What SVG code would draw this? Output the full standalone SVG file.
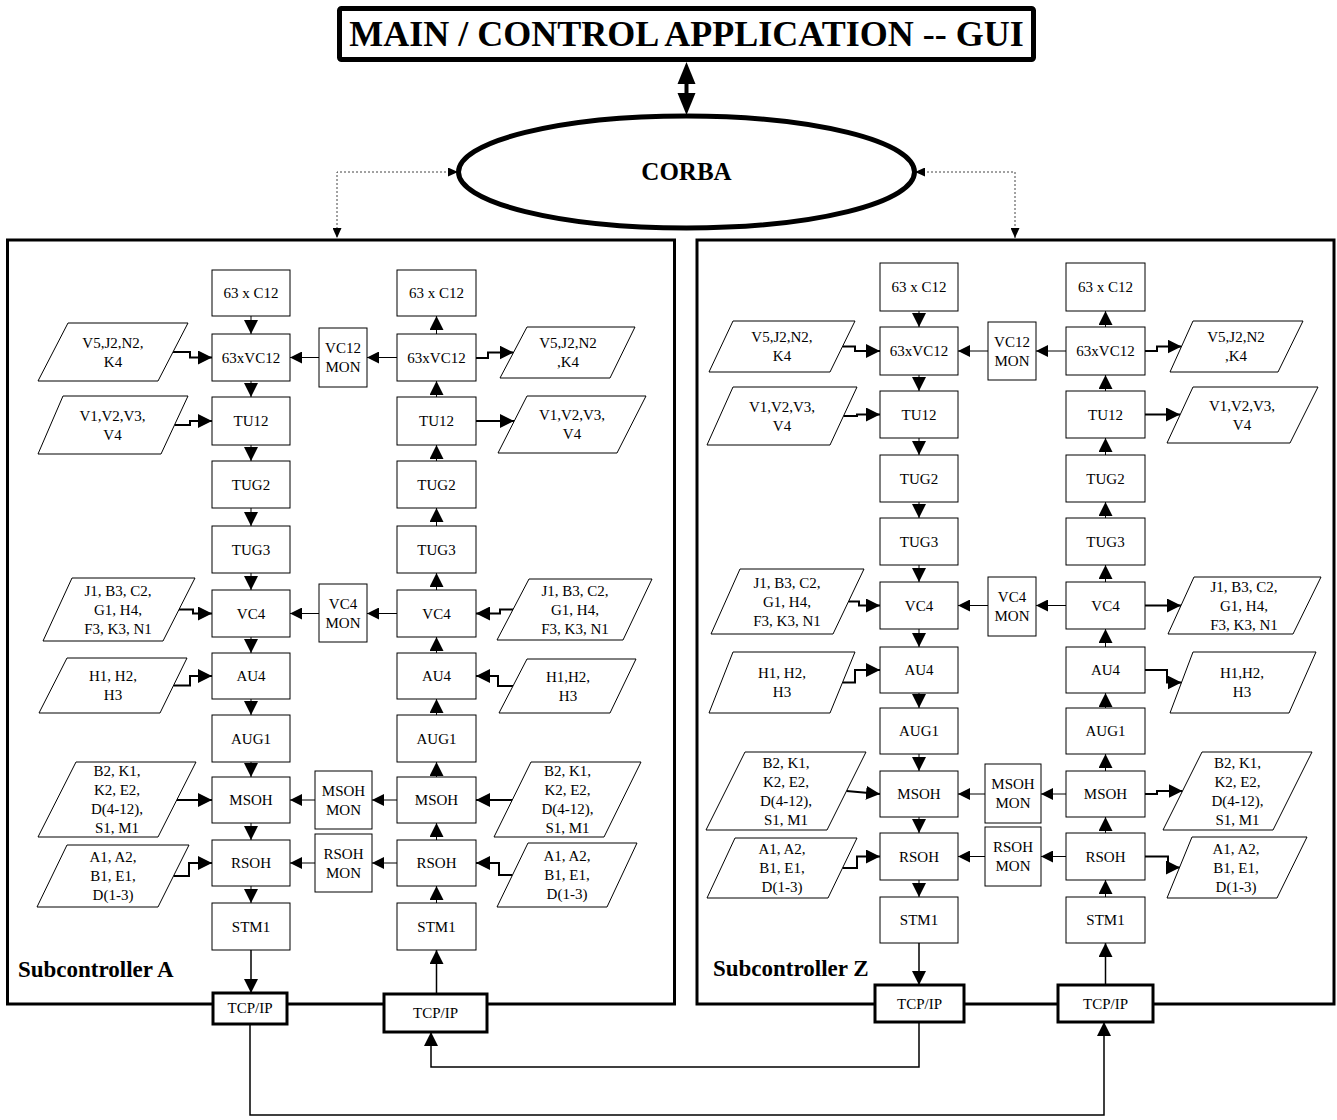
<svg xmlns="http://www.w3.org/2000/svg" width="1337" height="1120" viewBox="0 0 1337 1120">
<style>
.b{fill:#fff;stroke:#000;stroke-width:1}
.tc{fill:#fff;stroke:#000;stroke-width:3}
.pn{fill:none;stroke:#000;stroke-width:3}
.t{font-family:"Liberation Serif","Times New Roman",serif;font-size:15px;text-anchor:middle;fill:#000}
.tb{font-family:"Liberation Serif","Times New Roman",serif;font-weight:bold;fill:#000}
.f{fill:none;stroke:#000;stroke-width:1;marker-end:url(#ah)}
.fp{fill:none;stroke:#000;stroke-width:2;marker-end:url(#ah)}
.fm{fill:none;stroke:#000;stroke-width:1;marker-end:url(#am)}
.fl{fill:none;stroke:#000;stroke-width:1.5;marker-end:url(#ah)}
.fd{fill:none;stroke:#444;stroke-width:1;stroke-dasharray:2 2;marker-start:url(#ad);marker-end:url(#ad)}
</style>
<defs>
<marker id="ah" markerUnits="userSpaceOnUse" markerWidth="14" markerHeight="14" refX="14" refY="7" orient="auto"><path d="M0,0 L14,7 L0,14 z" fill="#000"/></marker>
<marker id="am" markerUnits="userSpaceOnUse" markerWidth="12" markerHeight="12" refX="12" refY="6" orient="auto"><path d="M0,0 L12,6 L0,12 z" fill="#000"/></marker>
<marker id="ad" markerUnits="userSpaceOnUse" markerWidth="10" markerHeight="9" refX="10" refY="4.5" orient="auto-start-reverse"><path d="M0,0 L10,4.5 L0,9 z" fill="#000"/></marker>
</defs>
<rect width="1337" height="1120" fill="#fff"/>

<g id="panelA"><rect class="pn" x="7.5" y="240" width="667" height="764"/><text class="tb" x="18" y="977" font-size="23">Subcontroller A</text></g>
<g id="panelZ"><rect class="pn" x="697" y="240" width="637" height="764"/><text class="tb" x="713" y="976" font-size="23">Subcontroller Z</text></g>

<g id="connectors">
<line x1="686.5" y1="80" x2="686.5" y2="98" stroke="#000" stroke-width="4"/>
<polygon points="686.5,62 677.5,84 695.5,84" fill="#000"/>
<polygon points="686.5,115 677.5,93 695.5,93" fill="#000"/>
<path class="fd" d="M458,172 H337 V238"/>
<path class="fd" d="M915,172 H1015 V238"/>
<!-- panel A left column (down) -->
<path class="f" d="M251,316 V334"/>
<path class="f" d="M251,381 V397"/>
<path class="f" d="M251,445 V461"/>
<path class="f" d="M251,508 V526"/>
<path class="f" d="M251,573 V590"/>
<path class="f" d="M251,637 V653"/>
<path class="f" d="M251,699 V715"/>
<path class="f" d="M251,762 V777"/>
<path class="f" d="M251,823 V840"/>
<path class="f" d="M251,886 V903"/>
<path class="fl" d="M251,950 V993"/>
<!-- panel A right column (up) -->
<path class="fl" d="M436.5,994 V950"/>
<path class="f" d="M436.5,903 V886"/>
<path class="f" d="M436.5,840 V823"/>
<path class="f" d="M436.5,777 V762"/>
<path class="f" d="M436.5,715 V699"/>
<path class="f" d="M436.5,653 V637"/>
<path class="f" d="M436.5,590 V573"/>
<path class="f" d="M436.5,526 V508"/>
<path class="f" d="M436.5,461 V445"/>
<path class="f" d="M436.5,397 V381"/>
<path class="f" d="M436.5,334 V316"/>
<!-- panel A MON -->
<path class="fm" d="M397,357.5 H367"/>
<path class="fm" d="M319,357.5 H290"/>
<path class="fm" d="M397,613.5 H367"/>
<path class="fm" d="M319,613.5 H290"/>
<path class="fm" d="M397,800 H372"/>
<path class="fm" d="M315,800 H290"/>
<path class="fm" d="M397,863 H372"/>
<path class="fm" d="M315,863 H290"/>
<!-- panel A left paras -->
<path class="fp" d="M173,352 H190 V357.5 H212"/>
<path class="fp" d="M174.5,425 H190 V421 H212"/>
<path class="fp" d="M179,609.5 H193 V613.5 H212"/>
<path class="fp" d="M173.5,685.5 H190 V676 H212"/>
<path class="fp" d="M177,800 H212"/>
<path class="fp" d="M173.5,876 H189 V863 H212"/>
<!-- panel A right paras -->
<path class="fp" d="M476,358 H488 V352.5 H513.5"/>
<path class="fp" d="M476,421 H514"/>
<path class="fp" d="M513,609.5 H500 V613.5 H476"/>
<path class="fp" d="M513,686 H498 V676 H476"/>
<path class="fp" d="M512.5,800 H476"/>
<path class="fp" d="M512.5,875 H499 V863 H476"/>
<!-- panel Z left column (down) -->
<path class="f" d="M919,311 V327"/>
<path class="f" d="M919,375 V391"/>
<path class="f" d="M919,438 V455"/>
<path class="f" d="M919,502 V518"/>
<path class="f" d="M919,565 V582"/>
<path class="f" d="M919,629 V647"/>
<path class="f" d="M919,693 V708"/>
<path class="f" d="M919,754 V771"/>
<path class="f" d="M919,817 V833"/>
<path class="f" d="M919,880 V897"/>
<path class="fl" d="M919,943 V985"/>
<!-- panel Z right column (up) -->
<path class="fl" d="M1105.5,985 V943"/>
<path class="f" d="M1105.5,897 V880"/>
<path class="f" d="M1105.5,833 V817"/>
<path class="f" d="M1105.5,771 V754"/>
<path class="f" d="M1105.5,708 V693"/>
<path class="f" d="M1105.5,647 V629"/>
<path class="f" d="M1105.5,582 V565"/>
<path class="f" d="M1105.5,518 V502"/>
<path class="f" d="M1105.5,455 V438"/>
<path class="f" d="M1105.5,391 V375"/>
<path class="f" d="M1105.5,327 V311"/>
<!-- panel Z MON -->
<path class="fm" d="M1066,351 H1036"/>
<path class="fm" d="M988,351 H958"/>
<path class="fm" d="M1066,605.5 H1036"/>
<path class="fm" d="M988,605.5 H958"/>
<path class="fm" d="M1066,794 H1041"/>
<path class="fm" d="M985,794 H958"/>
<path class="fm" d="M1066,856.5 H1041"/>
<path class="fm" d="M985,856.5 H958"/>
<!-- panel Z left paras -->
<path class="fp" d="M842.5,346.5 H855 V351 H880"/>
<path class="fp" d="M843.5,416 H857 V414.5 H880"/>
<path class="fp" d="M848.5,601.5 H859 V605.5 H880"/>
<path class="fp" d="M842.5,682.5 H855 V670 H880"/>
<path class="fp" d="M846.5,791 L880,794"/>
<path class="fp" d="M842.5,868 H857 V856.5 H880"/>
<!-- panel Z right paras -->
<path class="fp" d="M1145,351 H1157 V346.5 H1181.5"/>
<path class="fp" d="M1145,414.5 H1180"/>
<path class="fp" d="M1145,605.5 H1181"/>
<path class="fp" d="M1145,670 H1167 V682.5 H1181.5"/>
<path class="fp" d="M1145,794 H1157 V791 H1182.5"/>
<path class="fp" d="M1145,856.5 H1168 V867.5 H1180"/>
<!-- inter-controller links -->
<path class="fl" d="M919,1022 V1067 H431 V1032"/>
<path class="fl" d="M250,1024 V1115 H1104 V1022"/>
</g>

<g id="title"><rect x="339.5" y="8.5" width="694" height="51" fill="#fff" stroke="#000" stroke-width="5" rx="2"/><text class="tb" x="686.5" y="46" font-size="36" text-anchor="middle">MAIN / CONTROL APPLICATION -- GUI</text></g>
<g id="corba"><ellipse cx="686.5" cy="172" rx="228" ry="56" fill="#fff" stroke="#000" stroke-width="5"/><text class="tb" x="686.5" y="180" font-size="25" text-anchor="middle">CORBA</text></g>

<!-- Panel A left column -->
<g id="a_c12"><rect class="b" x="212" y="270" width="78" height="46"/><text class="t" x="251" y="298">63 x C12</text></g>
<g id="a_vc12"><rect class="b" x="212" y="334" width="78" height="47"/><text class="t" x="251" y="362.5">63xVC12</text></g>
<g id="a_tu12"><rect class="b" x="212" y="397" width="78" height="48"/><text class="t" x="251" y="426">TU12</text></g>
<g id="a_tug2"><rect class="b" x="212" y="461" width="78" height="47"/><text class="t" x="251" y="489.5">TUG2</text></g>
<g id="a_tug3"><rect class="b" x="212" y="526" width="78" height="47"/><text class="t" x="251" y="554.5">TUG3</text></g>
<g id="a_vc4"><rect class="b" x="212" y="590" width="78" height="47"/><text class="t" x="251" y="618.5">VC4</text></g>
<g id="a_au4"><rect class="b" x="212" y="653" width="78" height="46"/><text class="t" x="251" y="681">AU4</text></g>
<g id="a_aug1"><rect class="b" x="212" y="715" width="78" height="47"/><text class="t" x="251" y="743.5">AUG1</text></g>
<g id="a_msoh"><rect class="b" x="212" y="777" width="78" height="46"/><text class="t" x="251" y="805">MSOH</text></g>
<g id="a_rsoh"><rect class="b" x="212" y="840" width="78" height="46"/><text class="t" x="251" y="868">RSOH</text></g>
<g id="a_stm1"><rect class="b" x="212" y="903" width="78" height="47"/><text class="t" x="251" y="931.5">STM1</text></g>
<!-- Panel A right column -->
<g id="a2_c12"><rect class="b" x="397" y="270" width="79" height="46"/><text class="t" x="436.5" y="298">63 x C12</text></g>
<g id="a2_vc12"><rect class="b" x="397" y="334" width="79" height="47"/><text class="t" x="436.5" y="362.5">63xVC12</text></g>
<g id="a2_tu12"><rect class="b" x="397" y="397" width="79" height="48"/><text class="t" x="436.5" y="426">TU12</text></g>
<g id="a2_tug2"><rect class="b" x="397" y="461" width="79" height="47"/><text class="t" x="436.5" y="489.5">TUG2</text></g>
<g id="a2_tug3"><rect class="b" x="397" y="526" width="79" height="47"/><text class="t" x="436.5" y="554.5">TUG3</text></g>
<g id="a2_vc4"><rect class="b" x="397" y="590" width="79" height="47"/><text class="t" x="436.5" y="618.5">VC4</text></g>
<g id="a2_au4"><rect class="b" x="397" y="653" width="79" height="46"/><text class="t" x="436.5" y="681">AU4</text></g>
<g id="a2_aug1"><rect class="b" x="397" y="715" width="79" height="47"/><text class="t" x="436.5" y="743.5">AUG1</text></g>
<g id="a2_msoh"><rect class="b" x="397" y="777" width="79" height="46"/><text class="t" x="436.5" y="805">MSOH</text></g>
<g id="a2_rsoh"><rect class="b" x="397" y="840" width="79" height="46"/><text class="t" x="436.5" y="868">RSOH</text></g>
<g id="a2_stm1"><rect class="b" x="397" y="903" width="79" height="47"/><text class="t" x="436.5" y="931.5">STM1</text></g>
<!-- Panel A MON -->
<g id="a_vc12mon"><rect class="b" x="319" y="328" width="48" height="59"/><text class="t" x="343" y="353">VC12</text><text class="t" x="343" y="372">MON</text></g>
<g id="a_vc4mon"><rect class="b" x="319" y="584" width="48" height="58"/><text class="t" x="343" y="608.5">VC4</text><text class="t" x="343" y="627.5">MON</text></g>
<g id="a_msohmon"><rect class="b" x="315" y="771" width="57" height="58"/><text class="t" x="343.5" y="795.5">MSOH</text><text class="t" x="343.5" y="814.5">MON</text></g>
<g id="a_rsohmon"><rect class="b" x="315" y="834" width="57" height="58"/><text class="t" x="343.5" y="858.5">RSOH</text><text class="t" x="343.5" y="877.5">MON</text></g>
<!-- Panel A left paras -->
<g id="a_p1"><polygon class="b" points="68,323 188,323 158,381 38,381"/><text class="t" x="113" y="347.5">V5,J2,N2,</text><text class="t" x="113" y="366.5">K4</text></g>
<g id="a_p2"><polygon class="b" points="63,396 188,396 161,454 38,454"/><text class="t" x="112.5" y="420.5">V1,V2,V3,</text><text class="t" x="112.5" y="439.5">V4</text></g>
<g id="a_p3"><polygon class="b" points="72,578 195,578 163,641 43,641"/><text class="t" x="118" y="595.5">J1, B3, C2,</text><text class="t" x="118" y="614.5">G1, H4,</text><text class="t" x="118" y="633.5">F3, K3, N1</text></g>
<g id="a_p4"><polygon class="b" points="67,658 187,658 160,713 39,713"/><text class="t" x="113" y="681">H1, H2,</text><text class="t" x="113" y="700">H3</text></g>
<g id="a_p5"><polygon class="b" points="76,762 196,762 158,837 38,837"/><text class="t" x="117" y="776">B2, K1,</text><text class="t" x="117" y="795">K2, E2,</text><text class="t" x="117" y="814">D(4-12),</text><text class="t" x="117" y="833">S1, M1</text></g>
<g id="a_p6"><polygon class="b" points="67,845 189,845 158,907 37,907"/><text class="t" x="113" y="862">A1, A2,</text><text class="t" x="113" y="881">B1, E1,</text><text class="t" x="113" y="900">D(1-3)</text></g>
<!-- Panel A right paras -->
<g id="a_q1"><polygon class="b" points="527,327 635,327 610,378 500,378"/><text class="t" x="568" y="348">V5,J2,N2</text><text class="t" x="568" y="367">,K4</text></g>
<g id="a_q2"><polygon class="b" points="527,396 646,396 617,453 498,453"/><text class="t" x="572" y="420">V1,V2,V3,</text><text class="t" x="572" y="439">V4</text></g>
<g id="a_q3"><polygon class="b" points="529,579 652,579 623,640 497,640"/><text class="t" x="575" y="595.5">J1, B3, C2,</text><text class="t" x="575" y="614.5">G1, H4,</text><text class="t" x="575" y="633.5">F3, K3, N1</text></g>
<g id="a_q4"><polygon class="b" points="527,659 636,659 610,713 499,713"/><text class="t" x="568" y="681.5">H1,H2,</text><text class="t" x="568" y="700.5">H3</text></g>
<g id="a_q5"><polygon class="b" points="531,762 641,762 604,837 494,837"/><text class="t" x="567.5" y="776">B2, K1,</text><text class="t" x="567.5" y="795">K2, E2,</text><text class="t" x="567.5" y="814">D(4-12),</text><text class="t" x="567.5" y="833">S1, M1</text></g>
<g id="a_q6"><polygon class="b" points="528,843 637,843 607,907 497,907"/><text class="t" x="567" y="861">A1, A2,</text><text class="t" x="567" y="880">B1, E1,</text><text class="t" x="567" y="899">D(1-3)</text></g>
<!-- Panel A TCP/IP -->
<g id="a_tcp1"><rect class="tc" x="213" y="993" width="74" height="31"/><text class="t" x="250" y="1013" font-size="14">TCP/IP</text></g>
<g id="a_tcp2"><rect class="tc" x="384" y="994" width="103" height="38"/><text class="t" x="435.5" y="1018" font-size="14">TCP/IP</text></g>

<!-- Panel Z left column -->
<g id="z_c12"><rect class="b" x="880" y="263" width="78" height="48"/><text class="t" x="919" y="292">63 x C12</text></g>
<g id="z_vc12"><rect class="b" x="880" y="327" width="78" height="48"/><text class="t" x="919" y="356">63xVC12</text></g>
<g id="z_tu12"><rect class="b" x="880" y="391" width="78" height="47"/><text class="t" x="919" y="419.5">TU12</text></g>
<g id="z_tug2"><rect class="b" x="880" y="455" width="78" height="47"/><text class="t" x="919" y="483.5">TUG2</text></g>
<g id="z_tug3"><rect class="b" x="880" y="518" width="78" height="47"/><text class="t" x="919" y="546.5">TUG3</text></g>
<g id="z_vc4"><rect class="b" x="880" y="582" width="78" height="47"/><text class="t" x="919" y="610.5">VC4</text></g>
<g id="z_au4"><rect class="b" x="880" y="647" width="78" height="46"/><text class="t" x="919" y="675">AU4</text></g>
<g id="z_aug1"><rect class="b" x="880" y="708" width="78" height="46"/><text class="t" x="919" y="736">AUG1</text></g>
<g id="z_msoh"><rect class="b" x="880" y="771" width="78" height="46"/><text class="t" x="919" y="799">MSOH</text></g>
<g id="z_rsoh"><rect class="b" x="880" y="833" width="78" height="47"/><text class="t" x="919" y="861.5">RSOH</text></g>
<g id="z_stm1"><rect class="b" x="880" y="897" width="78" height="46"/><text class="t" x="919" y="925">STM1</text></g>
<!-- Panel Z right column -->
<g id="z2_c12"><rect class="b" x="1066" y="263" width="79" height="48"/><text class="t" x="1105.5" y="292">63 x C12</text></g>
<g id="z2_vc12"><rect class="b" x="1066" y="327" width="79" height="48"/><text class="t" x="1105.5" y="356">63xVC12</text></g>
<g id="z2_tu12"><rect class="b" x="1066" y="391" width="79" height="47"/><text class="t" x="1105.5" y="419.5">TU12</text></g>
<g id="z2_tug2"><rect class="b" x="1066" y="455" width="79" height="47"/><text class="t" x="1105.5" y="483.5">TUG2</text></g>
<g id="z2_tug3"><rect class="b" x="1066" y="518" width="79" height="47"/><text class="t" x="1105.5" y="546.5">TUG3</text></g>
<g id="z2_vc4"><rect class="b" x="1066" y="582" width="79" height="47"/><text class="t" x="1105.5" y="610.5">VC4</text></g>
<g id="z2_au4"><rect class="b" x="1066" y="647" width="79" height="46"/><text class="t" x="1105.5" y="675">AU4</text></g>
<g id="z2_aug1"><rect class="b" x="1066" y="708" width="79" height="46"/><text class="t" x="1105.5" y="736">AUG1</text></g>
<g id="z2_msoh"><rect class="b" x="1066" y="771" width="79" height="46"/><text class="t" x="1105.5" y="799">MSOH</text></g>
<g id="z2_rsoh"><rect class="b" x="1066" y="833" width="79" height="47"/><text class="t" x="1105.5" y="861.5">RSOH</text></g>
<g id="z2_stm1"><rect class="b" x="1066" y="897" width="79" height="46"/><text class="t" x="1105.5" y="925">STM1</text></g>
<!-- Panel Z MON -->
<g id="z_vc12mon"><rect class="b" x="988" y="322" width="48" height="58"/><text class="t" x="1012" y="346.5">VC12</text><text class="t" x="1012" y="365.5">MON</text></g>
<g id="z_vc4mon"><rect class="b" x="988" y="577" width="48" height="59"/><text class="t" x="1012" y="602">VC4</text><text class="t" x="1012" y="621">MON</text></g>
<g id="z_msohmon"><rect class="b" x="985" y="764" width="56" height="59"/><text class="t" x="1013" y="789">MSOH</text><text class="t" x="1013" y="808">MON</text></g>
<g id="z_rsohmon"><rect class="b" x="985" y="827" width="56" height="59"/><text class="t" x="1013" y="852">RSOH</text><text class="t" x="1013" y="871">MON</text></g>
<!-- Panel Z left paras -->
<g id="z_p1"><polygon class="b" points="733,321 855,321 830,372 709,372"/><text class="t" x="782" y="342">V5,J2,N2,</text><text class="t" x="782" y="361">K4</text></g>
<g id="z_p2"><polygon class="b" points="733,387 857,387 830,445 707,445"/><text class="t" x="782" y="411.5">V1,V2,V3,</text><text class="t" x="782" y="430.5">V4</text></g>
<g id="z_p3"><polygon class="b" points="740,569 864,569 833,634 711,634"/><text class="t" x="787" y="587.5">J1, B3, C2,</text><text class="t" x="787" y="606.5">G1, H4,</text><text class="t" x="787" y="625.5">F3, K3, N1</text></g>
<g id="z_p4"><polygon class="b" points="733,652 855,652 830,713 709,713"/><text class="t" x="782" y="678">H1, H2,</text><text class="t" x="782" y="697">H3</text></g>
<g id="z_p5"><polygon class="b" points="745,752 866,752 827,830 706,830"/><text class="t" x="786" y="767.5">B2, K1,</text><text class="t" x="786" y="786.5">K2, E2,</text><text class="t" x="786" y="805.5">D(4-12),</text><text class="t" x="786" y="824.5">S1, M1</text></g>
<g id="z_p6"><polygon class="b" points="735,838 857,838 828,898 707,898"/><text class="t" x="782" y="854">A1, A2,</text><text class="t" x="782" y="873">B1, E1,</text><text class="t" x="782" y="892">D(1-3)</text></g>
<!-- Panel Z right paras -->
<g id="z_q1"><polygon class="b" points="1193,321 1303,321 1278,372 1170,372"/><text class="t" x="1236" y="342">V5,J2,N2</text><text class="t" x="1236" y="361">,K4</text></g>
<g id="z_q2"><polygon class="b" points="1193,387 1318,387 1290,443 1167,443"/><text class="t" x="1242" y="410.5">V1,V2,V3,</text><text class="t" x="1242" y="429.5">V4</text></g>
<g id="z_q3"><polygon class="b" points="1194,577 1321,577 1293,634 1168,634"/><text class="t" x="1244" y="591.5">J1, B3, C2,</text><text class="t" x="1244" y="610.5">G1, H4,</text><text class="t" x="1244" y="629.5">F3, K3, N1</text></g>
<g id="z_q4"><polygon class="b" points="1193,652 1316,652 1289,713 1170,713"/><text class="t" x="1242" y="678">H1,H2,</text><text class="t" x="1242" y="697">H3</text></g>
<g id="z_q5"><polygon class="b" points="1202,752 1312,752 1273,830 1163,830"/><text class="t" x="1237.5" y="767.5">B2, K1,</text><text class="t" x="1237.5" y="786.5">K2, E2,</text><text class="t" x="1237.5" y="805.5">D(4-12),</text><text class="t" x="1237.5" y="824.5">S1, M1</text></g>
<g id="z_q6"><polygon class="b" points="1192,837 1307,837 1277,898 1167,898"/><text class="t" x="1236" y="853.5">A1, A2,</text><text class="t" x="1236" y="872.5">B1, E1,</text><text class="t" x="1236" y="891.5">D(1-3)</text></g>
<!-- Panel Z TCP/IP -->
<g id="z_tcp1"><rect class="tc" x="875" y="985" width="89" height="37"/><text class="t" x="919.5" y="1008.5" font-size="14">TCP/IP</text></g>
<g id="z_tcp2"><rect class="tc" x="1058" y="985" width="95" height="37"/><text class="t" x="1105.5" y="1008.5" font-size="14">TCP/IP</text></g>
</svg>
